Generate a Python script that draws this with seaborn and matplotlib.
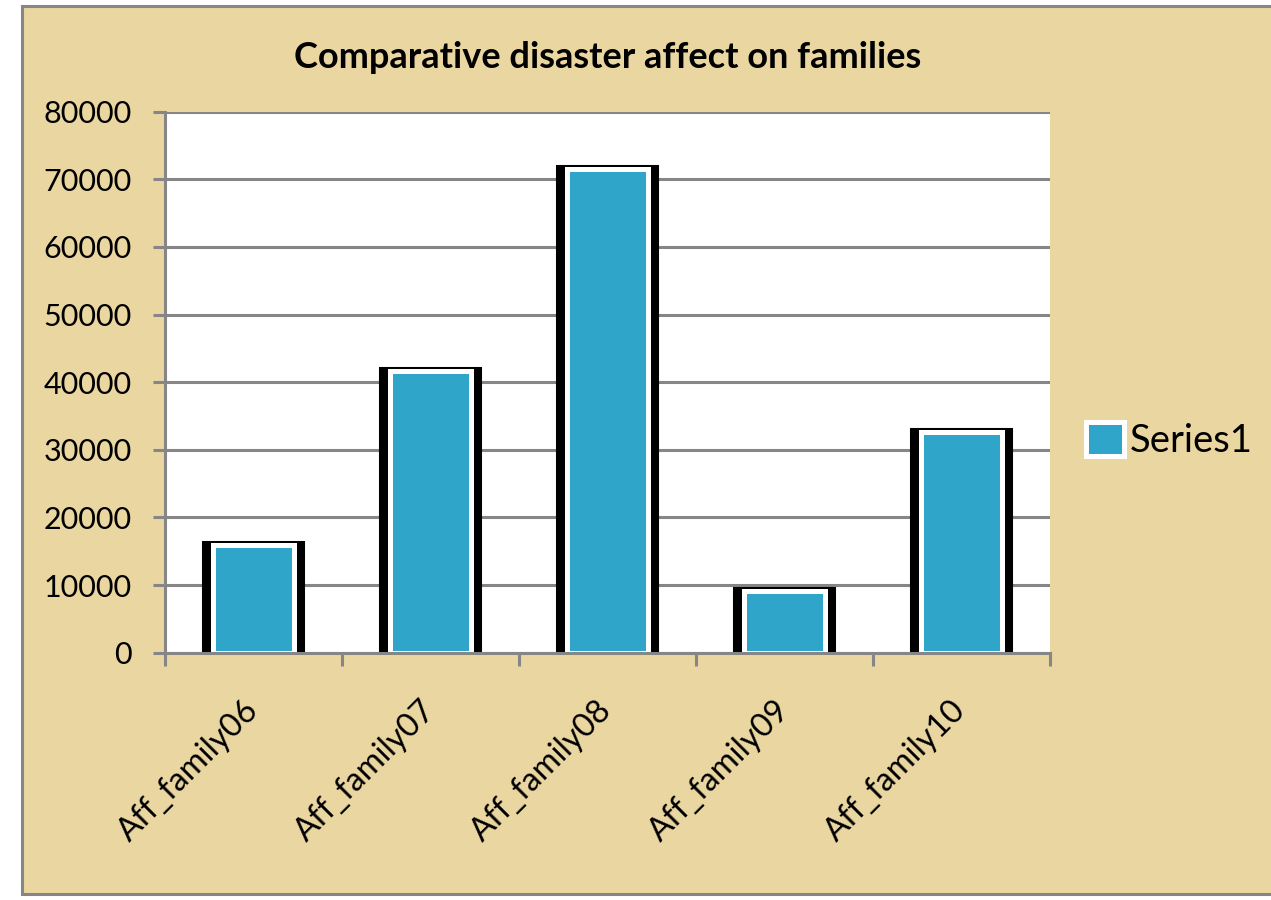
import matplotlib
matplotlib.use("Agg")
import matplotlib.pyplot as plt
import seaborn as sns
from matplotlib.patches import Rectangle

# values
families = ["Aff_family06", "Aff_family07", "Aff_family08", "Aff_family09", "Aff_family10"]
affected = [16000, 41700, 71500, 9100, 32700]
y_ticks = [0, 10000, 20000, 30000, 40000, 50000, 60000, 70000, 80000]
series_name = "Series1"
title = "Comparative disaster affect on families"

sns.set_theme(style="white")
plt.rcParams["font.family"] = ["Lato", "DejaVu Sans"]
plt.rcParams["text.color"] = "black"
plt.rcParams["xtick.color"] = "black"
plt.rcParams["ytick.color"] = "black"

grey = "#868686"
bar_blue = "#2FA6C9"
paper = "#EAD6A0"

fig = plt.figure(figsize=(12.71, 9.0), dpi=100, facecolor="white")
# papyrus-coloured chart area with grey frame
fig.patches.append(Rectangle((22 / 1271, 6 / 900), 1.0, 888 / 900, transform=fig.transFigure,
                             facecolor=paper, edgecolor=grey, linewidth=2.2, zorder=-5))

ax = fig.add_axes([165 / 1271, (900 - 652.7) / 900, (1050 - 165) / 1271, (652.7 - 111.7) / 900])
ax.set_facecolor("white")
ax.set_axisbelow(True)

# black frame behind each column, then the blue column with a white rim
sns.barplot(x=families, y=affected, color="black", saturation=1, width=0.54,
            edgecolor="black", linewidth=5.8, ax=ax)
sns.barplot(x=families, y=affected, color=bar_blue, saturation=1, width=0.452,
            edgecolor="white", linewidth=3.6, label=series_name, ax=ax)

ax.set_ylim(0, 80000)
ax.set_xlim(-0.5, len(families) - 0.5)
ax.set_yticks(y_ticks)
ax.set_yticklabels([str(v) for v in y_ticks], fontsize=22)
ax.yaxis.grid(True, color=grey, linewidth=2.2)
ax.xaxis.grid(False)

for side in ["top", "right"]:
    ax.spines[side].set_visible(False)
for side in ["left", "bottom"]:
    ax.spines[side].set_color(grey)
    ax.spines[side].set_linewidth(2.2)

ax.tick_params(axis="y", which="major", left=True, length=9, width=2.2, color=grey, pad=15)
ax.set_xticks(range(len(families)))
ax.set_xticks([i - 0.5 for i in range(len(families) + 1)], minor=True)
ax.tick_params(axis="x", which="major", bottom=False, length=0, pad=38)
ax.tick_params(axis="x", which="minor", bottom=True, length=9, width=2.2, color=grey)
ax.set_xticklabels(families, fontsize=23.5, rotation=45, ha="right", va="center",
                   rotation_mode="anchor")
ax.set_xlabel("")
ax.set_ylabel("")

fig.text(0.4783, 1 - 57 / 900, title, ha="center", va="center",
         fontsize=26, fontweight="bold", color="black")

handles, labels = ax.get_legend_handles_labels()
keep = [(h, l) for h, l in zip(handles, labels) if l == series_name]
ax.legend([h for h, _ in keep], [l for _, l in keep], loc="center left",
          bbox_to_anchor=(1.019, 0.393), frameon=False, fontsize=27.5, borderpad=0,
          handlelength=1.0, handleheight=1.0, handletextpad=0.15)

fig.savefig("out.png", dpi=100, facecolor="white")
